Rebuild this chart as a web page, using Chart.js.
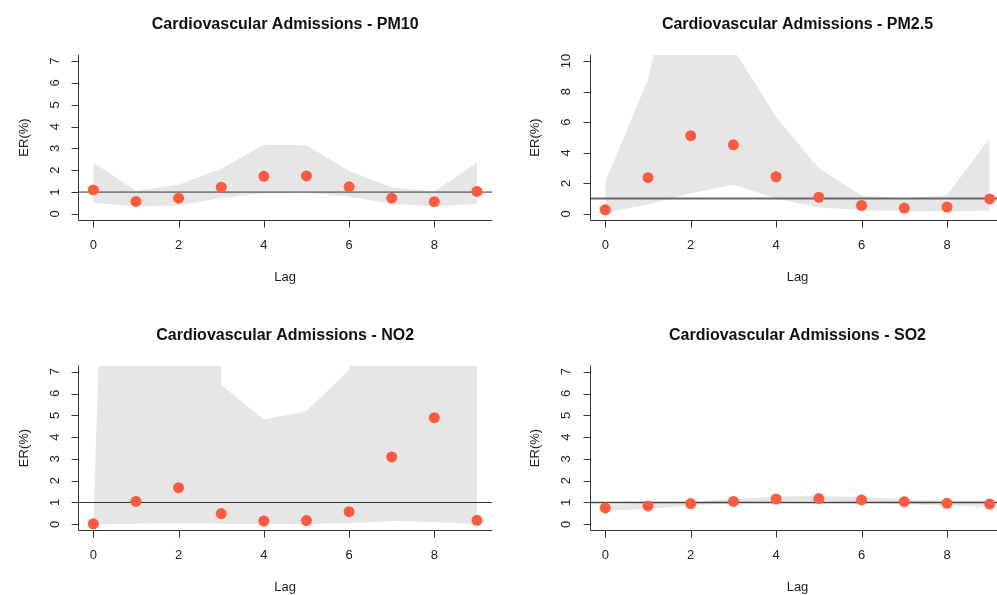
<!DOCTYPE html>
<html>
<head>
<meta charset="utf-8">
<script src="https://cdn.jsdelivr.net/npm/chart.js@4.4.0/dist/chart.umd.min.js"></script>
<style>
  html, body { margin: 0; padding: 0; background: #fff; overflow: hidden; }
  #wrap { position: relative; width: 997px; height: 595px; overflow: hidden; }
  canvas { position: absolute; }
</style>
</head>
<body>
<div id="wrap">
  <canvas id="pm10" width="498" height="298" style="left:0;top:0"></canvas>
  <canvas id="pm25" width="530" height="298" style="left:498px;top:0"></canvas>
  <canvas id="no2" width="498" height="297" style="left:0;top:298px"></canvas>
  <canvas id="so2" width="530" height="297" style="left:498px;top:298px"></canvas>
</div>
<script>
// lag days and axis ticks
var lags = [0, 1, 2, 3, 4, 5, 6, 7, 8, 9];
var xTicks = [0, 2, 4, 6, 8];
var yTicks7 = [0, 1, 2, 3, 4, 5, 6, 7];
var yTicks10 = [0, 2, 4, 6, 8, 10];

// PM10
var pm10Er = [1.10, 0.57, 0.72, 1.22, 1.72, 1.74, 1.24, 0.72, 0.56, 1.03];
var pm10Upper = [2.36, 1.06, 1.33, 2.07, 3.17, 3.15, 1.97, 1.22, 1.03, 2.36];
var pm10Lower = [0.50, 0.34, 0.38, 0.73, 0.95, 0.98, 0.79, 0.46, 0.34, 0.45];

// PM2.5
var pm25Er = [0.27, 2.37, 5.12, 4.52, 2.43, 1.09, 0.55, 0.38, 0.45, 0.98];
var pm25Upper = [2.10, 8.80, 21.0, 10.8, 6.35, 2.98, 1.20, 1.00, 1.22, 4.95];
var pm25Lower = [0.08, 0.62, 1.35, 1.90, 1.00, 0.42, 0.26, 0.17, 0.17, 0.20];

// NO2
var no2Er = [0.02, 1.05, 1.68, 0.49, 0.15, 0.17, 0.58, 3.09, 4.89, 0.18];
var no2Upper = [0.10, 60.0, 250.0, 6.39, 4.81, 5.20, 7.08, 25.0, 30.0, 20.0];
var no2Lower = [0.00, 0.02, 0.05, 0.03, 0.01, 0.01, 0.05, 0.15, 0.10, 0.00];

// SO2
var so2Er = [0.75, 0.84, 0.95, 1.05, 1.16, 1.18, 1.12, 1.04, 0.96, 0.93];
var so2Upper = [0.90, 0.96, 1.04, 1.15, 1.27, 1.30, 1.24, 1.15, 1.08, 1.08];
var so2Lower = [0.62, 0.70, 0.87, 0.96, 1.05, 1.07, 1.01, 0.93, 0.85, 0.80];

// R style axis range (4% extension)
var xMin = -0.36, xMax = 9.36;
var refValue = 1;

var FONT = '"Liberation Sans", Arial, Helvetica, sans-serif';

function pts(ys) {
  return lags.map(function (l, i) { return { x: l, y: ys[i] }; });
}

// draws title, L-shaped box, ticks and labels in base R style
var rAxes = {
  id: 'rAxes',
  afterDraw: function (chart, args, opts) {
    var ctx = chart.ctx, a = chart.chartArea;
    var xs = chart.scales.x, ys = chart.scales.y;
    ctx.save();
    ctx.strokeStyle = '#333';
    ctx.lineWidth = 1;
    ctx.beginPath();
    var L = Math.round(a.left) + 0.5, B = Math.round(a.bottom) + 0.5;
    ctx.moveTo(L, a.top);
    ctx.lineTo(L, B);
    ctx.lineTo(a.right, B);
    xTicks.forEach(function (v) {
      var px = Math.round(xs.getPixelForValue(v)) + 0.5;
      ctx.moveTo(px, B);
      ctx.lineTo(px, B + 7);
    });
    opts.yTicks.forEach(function (v) {
      var py = Math.round(ys.getPixelForValue(v)) + 0.5;
      ctx.moveTo(L, py);
      ctx.lineTo(L - 7, py);
    });
    ctx.stroke();

    ctx.fillStyle = '#222';
    ctx.font = '13px ' + FONT;
    ctx.textAlign = 'center';
    ctx.textBaseline = 'middle';
    xTicks.forEach(function (v) {
      ctx.fillText(String(v), xs.getPixelForValue(v), a.bottom + 25);
    });
    opts.yTicks.forEach(function (v) {
      ctx.save();
      ctx.translate(a.left - 23, ys.getPixelForValue(v));
      ctx.rotate(-Math.PI / 2);
      ctx.fillText(String(v), 0, 0);
      ctx.restore();
    });
    ctx.fillText('Lag', (a.left + a.right) / 2, a.bottom + 57);
    ctx.save();
    ctx.translate(a.left - 54, (a.top + a.bottom) / 2);
    ctx.rotate(-Math.PI / 2);
    ctx.fillText('ER(%)', 0, 0);
    ctx.restore();

    ctx.fillStyle = '#111';
    ctx.font = 'bold 16px ' + FONT;
    ctx.textBaseline = 'alphabetic';
    ctx.fillText(opts.title, (a.left + a.right) / 2, a.top - 26);
    ctx.restore();
  }
};

function makePanel(id, title, er, lower, upper, yMin, yMax, yTicks, pad, refColor, refWidth) {
  return new Chart(document.getElementById(id), {
    type: 'scatter',
    data: {
      datasets: [{
        data: pts(er),
        backgroundColor: '#fd5a3e',
        borderWidth: 0,
        pointRadius: 5.5,
        pointHoverRadius: 5.5
      }, {
        type: 'line',
        data: [{ x: xMin, y: refValue }, { x: xMax, y: refValue }],
        borderColor: refColor,
        borderWidth: refWidth,
        pointRadius: 0,
        fill: false
      }, {
        type: 'line',
        data: pts(upper),
        borderColor: 'rgba(0,0,0,0)',
        borderWidth: 0,
        pointRadius: 0,
        backgroundColor: '#e6e6e6',
        fill: '+1'
      }, {
        type: 'line',
        data: pts(lower),
        borderColor: 'rgba(0,0,0,0)',
        borderWidth: 0,
        pointRadius: 0,
        fill: false
      }]
    },
    options: {
      responsive: false,
      animation: false,
      events: [],
      layout: { padding: pad },
      plugins: {
        legend: { display: false },
        tooltip: { enabled: false },
        rAxes: { title: title, yTicks: yTicks }
      },
      scales: {
        x: { type: 'linear', min: xMin, max: xMax, display: false },
        y: { type: 'linear', min: yMin, max: yMax, display: false }
      }
    },
    plugins: [rAxes]
  });
}

makePanel('pm10', 'Cardiovascular Admissions - PM10', pm10Er, pm10Lower, pm10Upper,
  -0.28, 7.28, yTicks7, { left: 78, right: 5.7, top: 55, bottom: 78 }, '#333', 1);
makePanel('pm25', 'Cardiovascular Admissions - PM2.5', pm25Er, pm25Lower, pm25Upper,
  -0.4, 10.4, yTicks10, { left: 91.9, right: 22.9, top: 55, bottom: 78 }, '#666', 2);
makePanel('no2', 'Cardiovascular Admissions - NO2', no2Er, no2Lower, no2Upper,
  -0.28, 7.28, yTicks7, { left: 78, right: 5.7, top: 67.6, bottom: 64.6 }, '#333', 1);
makePanel('so2', 'Cardiovascular Admissions - SO2', so2Er, so2Lower, so2Upper,
  -0.28, 7.28, yTicks7, { left: 91.9, right: 22.9, top: 67.6, bottom: 64.6 }, '#444', 1.5);
</script>
</body>
</html>
